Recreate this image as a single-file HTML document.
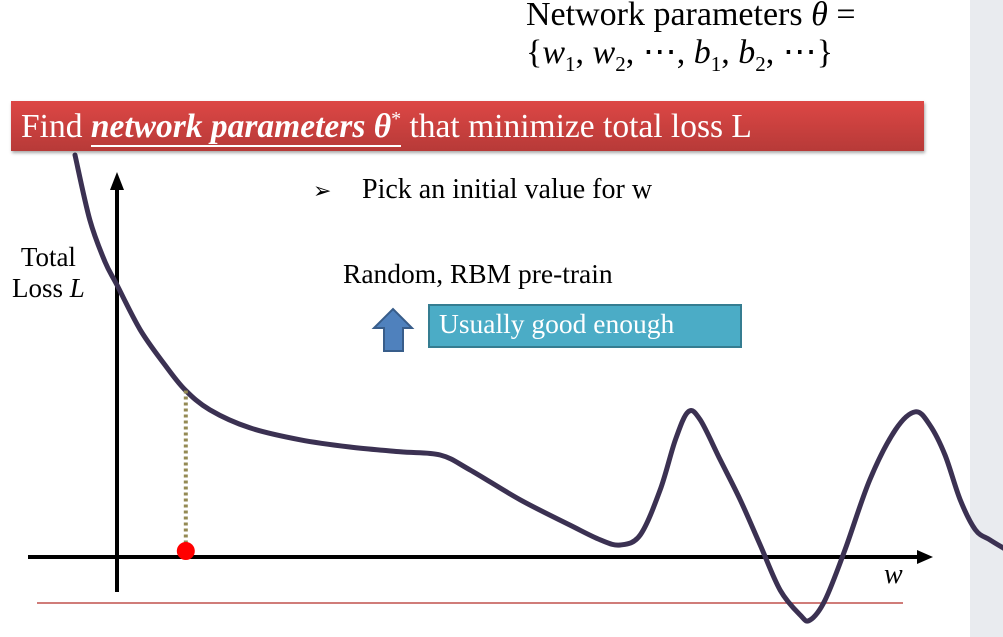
<!DOCTYPE html>
<html><head><meta charset="utf-8"><style>
body{margin:0;width:1003px;height:637px;overflow:hidden;background:#fff;font-family:"Liberation Serif",serif;position:relative}
.t{position:absolute;white-space:nowrap;color:#000}
</style></head><body>
<div style="position:absolute;left:970px;top:0;width:33px;height:637px;background:#e9ebef"></div>
<div class="t" style="left:526px;top:-4px;font-size:34px;line-height:38px">Network parameters <i>θ</i> =</div>
<div class="t" style="left:526px;top:34px;font-size:34px;line-height:38px">{<i>w</i><sub style="font-size:21px">1</sub>, <i>w</i><sub style="font-size:21px">2</sub>, ⋯, <i>b</i><sub style="font-size:21px">1</sub>, <i>b</i><sub style="font-size:21px">2</sub>, ⋯}</div>
<svg id="chart" width="1003" height="637" style="position:absolute;left:0;top:0"></svg>
<div style="position:absolute;left:11px;top:101px;width:913px;height:50px;background:linear-gradient(#dd4745,#b73a38);box-shadow:1px 2px 3px rgba(0,0,0,.35)"></div>
<div class="t" style="left:21px;top:99px;font-size:33.5px;color:#fff;line-height:40px">Find <span style="border-bottom:2px solid #fff;padding-bottom:0"><b><i>network parameters θ</i></b><sup style="font-size:20px">*</sup></span> that minimize total loss L</div>
<div class="t" style="left:313px;top:178px;font-size:22px">➢</div>
<div class="t" style="left:362px;top:174px;font-size:28px">Pick an initial value for w</div>
<div class="t" style="left:12px;top:242px;font-size:27px;line-height:31px;text-align:center">Total<br>Loss <i>L</i></div>
<div class="t" style="left:343px;top:258px;font-size:27.5px">Random, RBM pre-train</div>
<div style="position:absolute;left:428px;top:304px;width:310px;height:40px;background:#4bacc6;border:2px solid #357d91"></div>
<div class="t" style="left:439px;top:308px;font-size:27.5px;color:#fff">Usually good enough</div>
<svg width="60" height="50" style="position:absolute;left:370px;top:305px"><polygon points="4,23 23,4 42,23 33,23 33,46 14,46 14,23" fill="#4f81bd" stroke="#385d8a" stroke-width="2"/></svg>
<div class="t" style="left:884px;top:559px;font-size:28px"><i>w</i></div>
<script>
const wVals=[-5.25,-3.4,-1.5,0,2.9,6,8.5,11.6,16.6,22.9,29.1,35.4,40.4,44.1,50.4,56.6,60.4,62.9,65.4,67.9,69.8,71.4,72.9,75.4,77.9,80.4,82.9,85.4,86.6,88.5,91,94.1,97.3,99.8,101.6,103.5,105.4,107.3,109.1,111];
const lossVals=[100.5,84.3,73.8,68,56.8,48,41.8,36.8,32.3,29.3,27.5,26.3,25.5,21.8,14.3,8,4.3,3,5.5,16.8,29.3,36.3,34.3,24.3,14.3,3,-8.3,-14.5,-15.8,-10.8,1.8,19.3,31.8,36.3,33,25.5,14.3,6.8,4.3,2];
const initW=[8.6];
const X=w=>117+w*8, Y=l=>557-l*4;
const svg=document.getElementById('chart'),NS='http://www.w3.org/2000/svg';
function mk(t,a){const e=document.createElementNS(NS,t);for(const k in a)e.setAttribute(k,a[k]);svg.appendChild(e);return e;}
let e;
e=mk('line',{x1:37,y1:603,x2:903,y2:603,stroke:'#c0504d','stroke-width':1.5});


e=mk('line',{x1:28,y1:557,x2:920,y2:557,stroke:'#000','stroke-width':4});


e=mk('polygon',{points:'933,557 917,550 917,564',fill:'#000'});


e=mk('line',{x1:117,y1:592,x2:117,y2:186,stroke:'#000','stroke-width':4});


e=mk('polygon',{points:'117,172 110,190 124,190',fill:'#000'});


const P=wVals.map((w,i)=>[X(w),Y(lossVals[i])]);
let d='M'+P[0][0]+','+P[0][1];
for(let i=0;i<P.length-1;i++){const p0=P[Math.max(0,i-1)],p1=P[i],p2=P[i+1],p3=P[Math.min(P.length-1,i+2)];
d+=' C'+(p1[0]+(p2[0]-p0[0])/6)+','+(p1[1]+(p2[1]-p0[1])/6)+' '+(p2[0]-(p3[0]-p1[0])/6)+','+(p2[1]-(p3[1]-p1[1])/6)+' '+p2[0]+','+p2[1];}
e=mk('path',{d:d,fill:'none',stroke:'#3b3152','stroke-width':5,'stroke-linecap':'round'});


function lossAt(w){for(let i=0;i<wVals.length-1;i++)if(w>=wVals[i]&&w<=wVals[i+1]){const t=(w-wVals[i])/(wVals[i+1]-wVals[i]);return lossVals[i]+t*(lossVals[i+1]-lossVals[i]);}return 0;}
e=mk('line',{x1:X(initW[0]),y1:Y(lossAt(initW[0])),x2:X(initW[0]),y2:551,stroke:'#948a54','stroke-width':4,'stroke-dasharray':'3,3'});


e=mk('circle',{cx:X(initW[0]),cy:551,r:9,fill:'#ff0000'});


</script>
</body></html>
